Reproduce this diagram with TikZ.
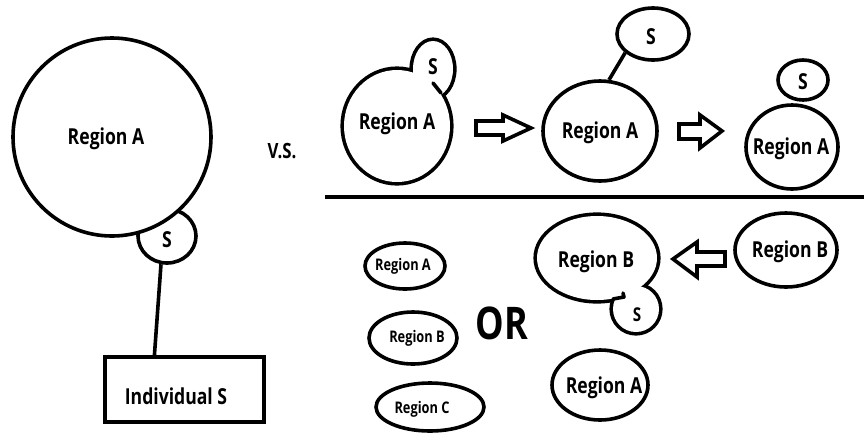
\documentclass[tikz,border=0pt]{standalone}
\usepackage{fontspec}
\setmainfont{Open Sans}[FakeStretch=0.8]
\usetikzlibrary{calc,shapes.geometric}
\tikzset{
  ln/.style={line width=3.6pt},
  blob/.style={ellipse, draw, line width=3.6pt, inner sep=0pt, minimum width=#1},
  big/.style={font=\fontsize{22}{24}\selectfont\bfseries},
  small/.style={font=\fontsize{16}{18}\selectfont\bfseries},
  blockarrow/.style={line width=3.6pt, line join=miter, fill=white},
}
\begin{document}
\begin{tikzpicture}[x=1pt,y=-1pt]
\useasboundingbox (0,0) rectangle (864,432);
% ---- left: big Region A with S and Individual S
\node[ellipse, draw, ln, inner sep=0pt, minimum width=58, minimum height=54] (s1) at (167,236) {};
\node[circle, draw, ln, fill=white, inner sep=0pt, minimum size=198] (ra1) at (112,137) {};
\node[big] (t1) at (106,139) {Region A};
\node[big] (ts1) at (167,240) {S};
\node[draw, ln, minimum width=159, minimum height=65, inner sep=0pt] (box) at (184.5,389.5) {};
\node[big] (tbox) at (176,396) {Individual S};
\draw[ln] (s1.258) -- ($(box.north west)!0.315!(box.north east)$);
\node[font=\fontsize{21}{23}\selectfont\bfseries] (vs) at (282,151) {V.S.};
% ---- divider
\draw[line width=4.5pt] (325,197) -- (864,197);
% ---- top row: Region A with S bump
\draw[line width=7.2pt] (397,126) ellipse [x radius=53, y radius=56];
\draw[line width=7.2pt] (433,69) ellipse [x radius=20, y radius=28];
\fill[white] (397,126) ellipse [x radius=53, y radius=56];
\fill[white] (433,69) ellipse [x radius=20, y radius=28];
\draw[ln, line cap=round] (433,83) -- (441,93);
\node[big] (t2) at (397,124) {Region A};
\node[big] (ts2) at (433,67) {S};
% arrow 1
\draw[blockarrow] (476,121) -- (503,121) -- (503,115) -- (531,128) -- (503,141) -- (503,135) -- (476,135) -- cycle;
% middle Region A with S on a stick
\node[blob=114, minimum height=100] (ra3) at (600,131) {};
\node[big] (t3) at (600,133) {Region A};
\node[blob=72, minimum height=52] (s3) at (653,34) {};
\node[big] (ts3) at (651,37) {S};
\draw[ln] (s3.214) -- (ra3.80);
% arrow 2
\draw[blockarrow] (679,124) -- (700,124) -- (700,115) -- (722,131) -- (700,148) -- (700,139) -- (679,139) -- cycle;
% right: separate S and Region A
\node[blob=50, minimum height=40] (s4) at (803,80) {};
\node[big] (ts4) at (803,82) {S};
\node[blob=92, minimum height=84] (ra4) at (792,147) {};
\node[big] (t4) at (791,149) {Region A};
% ---- bottom left: three regions and OR
\node[blob=80, minimum height=46] (b1) at (405,266) {};
\node[small] (tb1) at (403,266) {Region A};
\node[blob=88, minimum height=52] (b2) at (413,338) {};
\node[small] (tb2) at (417,338) {Region B};
\node[blob=108, minimum height=48] (b3) at (430,407) {};
\node[small] (tb3) at (422,409) {Region C};
\node[font=\fontsize{45}{48}\selectfont\bfseries] (or) at (502,323) {OR};
% ---- bottom right: Region B with S bump
\draw[line width=7.2pt] (597,258) ellipse [x radius=60, y radius=42];
\draw[line width=7.2pt] (636,309) ellipse [x radius=23, y radius=23];
\fill[white] (597,258) ellipse [x radius=60, y radius=42];
\fill[white] (636,309) ellipse [x radius=23, y radius=23];
\draw[ln, line cap=round, line join=round] (613,299) -- (624,297) -- (623,293);
\node[big] (t5) at (596,262) {Region B};
\node[font=\fontsize{19}{21}\selectfont\bfseries] (ts5) at (637,315) {S};
% arrow 3 (pointing left)
\draw[blockarrow] (725,252) -- (697,252) -- (697,242) -- (673,259) -- (697,277) -- (697,266) -- (725,266) -- cycle;
\node[blob=102, minimum height=74] (rb6) at (786,250) {};
\node[big] (t6) at (790,252) {Region B};
% bottom Region A
\node[blob=96, minimum height=70] (ra7) at (600,385) {};
\node[big] (t7) at (604,388) {Region A};
\end{tikzpicture}
\end{document}
